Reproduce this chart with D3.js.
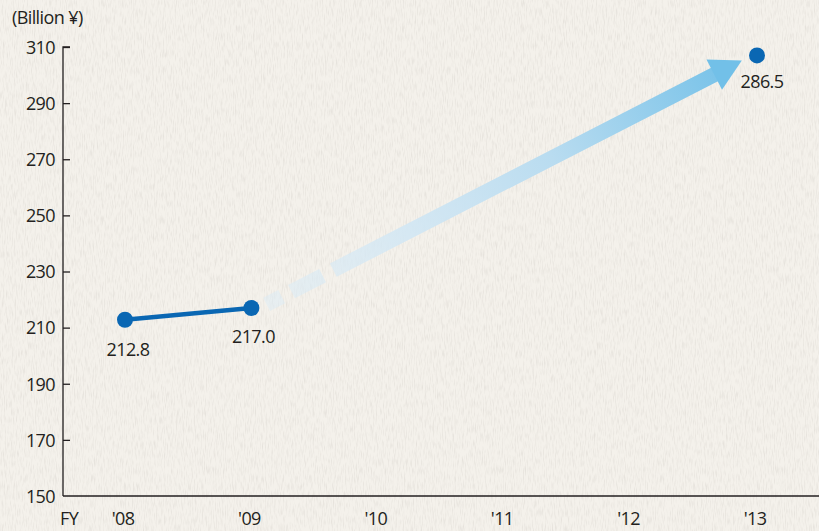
<!DOCTYPE html>
<html>
<head>
<meta charset="utf-8">
<script src="https://cdn.jsdelivr.net/npm/d3@7"></script>
<style>
  body { margin: 0; background: #f3f0ea; }
  svg { display: block; }
  text { font-family: "Open Sans", "Noto Sans", sans-serif; fill: #231f20; letter-spacing: -0.6px; }
</style>
</head>
<body>
<svg id="chart" width="819" height="531"></svg>
<script>
const years = [2008, 2009, 2010, 2011, 2012, 2013];
const yearLabels = ["'08", "'09", "'10", "'11", "'12", "'13"];
const yTicks = [150, 170, 190, 210, 230, 250, 270, 290, 310];
// actual results for FY08, FY09
const actualYears = [2008, 2009];
const actualValues = [212.8, 217.0];
// target point for FY13 (drawn where the picture places it)
const targetYear = 2013;
const targetPlotted = 307;
const pointLabels = ["212.8", "217.0", "286.5"];
// arrow start / end in data units
const arrowFrom = [2009.12, 218.3];
const arrowTo = [2012.88, 305.2];

const width = 819, height = 531;
const svg = d3.select('#chart');

// paper texture
const defs = svg.append('defs');
const f = defs.append('filter').attr('id', 'paper').attr('x', 0).attr('y', 0).attr('width', '100%').attr('height', '100%');
f.append('feTurbulence').attr('type', 'fractalNoise').attr('baseFrequency', '0.9 0.12').attr('numOctaves', 2).attr('seed', 3).attr('result', 'n');
f.append('feColorMatrix').attr('in', 'n').attr('type', 'matrix')
  .attr('values', '0 0 0 0 0.55  0 0 0 0 0.52  0 0 0 0 0.48  0 0 0 -1.6 0.9');
svg.append('rect').attr('width', width).attr('height', height).attr('fill', '#f4f1eb');
svg.append('rect').attr('width', width).attr('height', height).attr('filter', 'url(#paper)').attr('opacity', 0.4);

const x = d3.scaleLinear().domain([2008, 2013]).range([125, 757]);
const y = d3.scaleLinear().domain([150, 310]).range([496, 47]);

// y axis
const yAxis = svg.append('g').attr('transform', 'translate(63,0)')
  .call(d3.axisRight(y).tickValues(yTicks).tickSize(7).tickFormat(d3.format('d')));
yAxis.select('.domain').attr('d', `M7,${y(310)}H0V${y(150)}`).attr('stroke', '#231f20').attr('stroke-width', 1.3);
yAxis.selectAll('.tick line').attr('stroke', '#231f20').attr('stroke-width', 1.3);
yAxis.selectAll('.tick text').attr('x', -8).attr('text-anchor', 'end').attr('dy', '0.35em')
  .style('font-size', '18px').attr('fill', '#231f20');
yAxis.selectAll('.tick').filter(d => d === 150).select('line').remove();

// x axis line
svg.append('line').attr('x1', 63).attr('x2', width).attr('y1', y(150)).attr('y2', y(150))
  .attr('stroke', '#231f20').attr('stroke-width', 1.3);

svg.append('g').selectAll('text').data(years).join('text')
  .attr('x', d => x(d) - 2).attr('y', 525).attr('text-anchor', 'middle')
  .style('font-size', '18px').text((d, i) => yearLabels[i]);
svg.append('text').attr('x', 60).attr('y', 525).style('font-size', '18px').text('FY');
svg.append('text').attr('x', 12).attr('y', 24).style('font-size', '18px').text('(Billion ¥)');

// arrow
const x0 = x(arrowFrom[0]), y0 = y(arrowFrom[1]);
const x1 = x(arrowTo[0]), y1 = y(arrowTo[1]);
const ang = Math.atan2(y1 - y0, x1 - x0);
const headLen = 31, headHalf = 17;
const bx = x1 - headLen * Math.cos(ang), by = y1 - headLen * Math.sin(ang);
const grad = defs.append('linearGradient').attr('id', 'arrowGrad').attr('gradientUnits', 'userSpaceOnUse')
  .attr('x1', x0).attr('y1', y0).attr('x2', x1).attr('y2', y1);
grad.append('stop').attr('offset', 0).attr('stop-color', '#dcecf6').attr('stop-opacity', 0.5);
grad.append('stop').attr('offset', 0.3).attr('stop-color', '#d2e7f4').attr('stop-opacity', 0.9);
grad.append('stop').attr('offset', 0.6).attr('stop-color', '#b9dcf0');
grad.append('stop').attr('offset', 1).attr('stop-color', '#72c0e8');
const shaftLen = Math.hypot(bx - x0, by - y0);
svg.append('line').attr('x1', x0).attr('y1', y0).attr('x2', bx + 2 * Math.cos(ang)).attr('y2', by + 2 * Math.sin(ang))
  .attr('stroke', 'url(#arrowGrad)').attr('stroke-width', 15)
  .attr('stroke-dasharray', `17 11 35 12 ${shaftLen}`);
const px = -Math.sin(ang), py = Math.cos(ang);
svg.append('path')
  .attr('d', `M${x1},${y1}L${bx + px * headHalf},${by + py * headHalf}L${bx - px * headHalf},${by - py * headHalf}Z`)
  .attr('fill', '#72c0e8');

// actual line
const line = d3.line().x(d => x(d[0])).y(d => y(d[1]));
const pts = actualYears.map((d, i) => [d, actualValues[i]]);
svg.append('path').datum(pts).attr('d', line).attr('fill', 'none')
  .attr('stroke', '#0a67b3').attr('stroke-width', 4.5);
const allPts = pts.concat([[targetYear, targetPlotted]]);
svg.append('g').selectAll('circle').data(allPts).join('circle')
  .attr('cx', d => x(d[0])).attr('cy', d => y(d[1])).attr('r', 8).attr('fill', '#0a67b3');

// value labels
const labelOffsets = [[3, 36], [2, 35], [5, 33]];
svg.append('g').selectAll('text').data(allPts).join('text')
  .attr('x', (d, i) => x(d[0]) + labelOffsets[i][0])
  .attr('y', (d, i) => y(d[1]) + labelOffsets[i][1])
  .attr('text-anchor', 'middle').style('font-size', '18px')
  .text((d, i) => pointLabels[i]);
</script>
</body>
</html>
